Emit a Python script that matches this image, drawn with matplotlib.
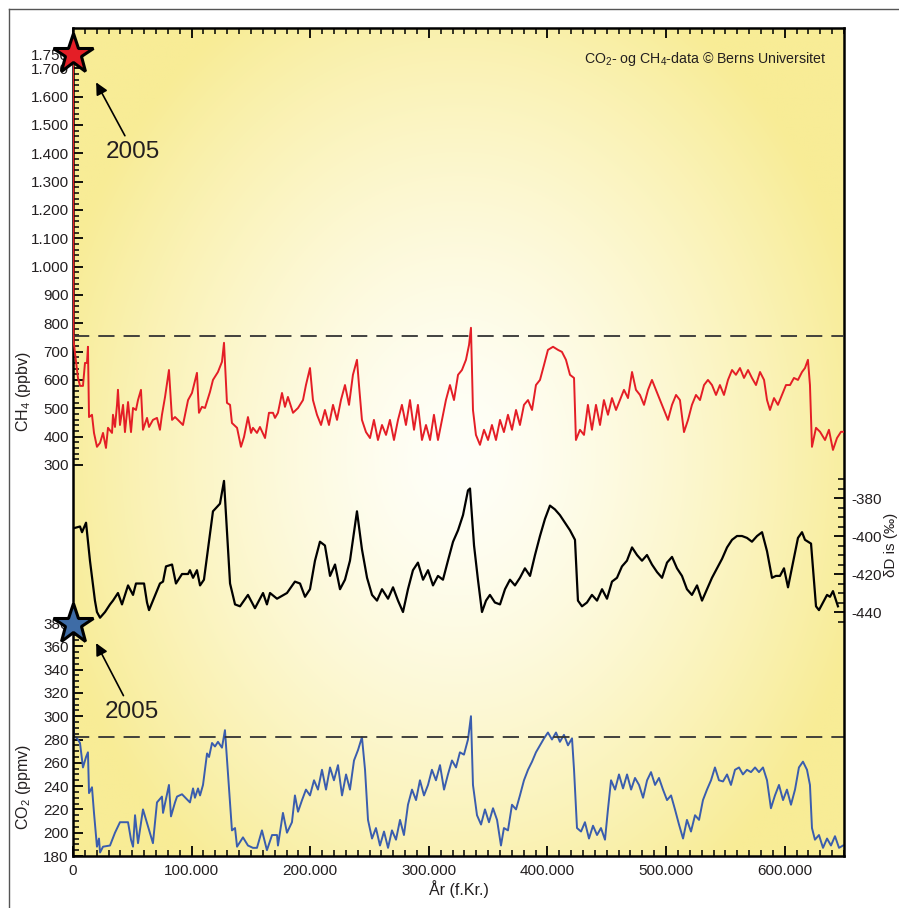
import matplotlib
matplotlib.use("Agg")
import matplotlib.pyplot as plt
import numpy as np
from matplotlib.ticker import FixedLocator, MultipleLocator, FuncFormatter
from matplotlib.lines import Line2D

plt.rcParams['font.family'] = ['Liberation Sans', 'DejaVu Sans']
plt.rcParams['axes.unicode_minus'] = False
plt.rcParams['mathtext.fontset'] = 'custom'
plt.rcParams['mathtext.rm'] = 'Liberation Sans'
plt.rcParams['mathtext.it'] = 'Liberation Sans'

# --- data (age in kyr before present) ---
ch4_age = [0.0, 0.4, 4.2, 5.9, 8.4, 10.1, 11.8, 12.6, 13.5, 16.0, 17.7, 20.2, 22.8, 25.3, 27.8, 29.5,
           32.9, 33.7, 35.4, 37.1, 37.9, 39.6, 42.2, 43.8, 46.4, 48.9, 50.6, 53.1, 54.8, 57.3, 59.0,
           62.4, 64.1, 67.4, 70.8, 73.3, 75.0, 77.6, 80.9, 83.5, 86.0, 88.5, 92.7, 97.0, 100.3, 104.5,
           106.2, 108.7, 111.3, 115.5, 118.0, 122.2, 125.6, 127.3, 129.8, 132.4, 134.0, 138.3, 141.6,
           144.2, 147.5, 150.1, 151.7, 155.1, 157.6, 161.9, 165.2, 168.6, 170.3, 172.8, 176.2, 178.7,
           181.2, 185.5, 189.7, 193.9, 196.4, 199.8, 202.3, 205.7, 209.1, 212.4, 215.8, 219.2, 222.6,
           225.9, 229.3, 232.7, 236.0, 239.4, 241.1, 243.6, 247.0, 250.4, 253.7, 257.1, 260.5, 263.9,
           267.2, 270.6, 274.0, 277.3, 280.7, 284.1, 287.5, 290.8, 294.2, 297.6, 301.0, 304.3, 307.7,
           311.1, 314.4, 317.8, 321.2, 324.6, 327.9, 331.3, 333.9, 335.5, 337.2, 339.7, 343.1, 346.5,
           349.9, 353.2, 356.6, 360.0, 363.3, 366.7, 370.1, 373.5, 376.8, 380.2, 383.6, 387.0, 390.3,
           393.7, 397.1, 400.4, 404.7, 408.9, 412.2, 415.6, 419.0, 422.4, 424.0, 427.4, 430.8, 434.1,
           437.5, 440.9, 444.3, 447.6, 451.0, 454.4, 457.8, 461.1, 464.5, 467.9, 471.3, 474.6, 478.0,
           481.4, 484.8, 488.1, 491.5, 494.9, 498.2, 501.6, 505.0, 508.4, 511.7, 515.1, 518.5, 521.8,
           525.2, 528.6, 532.0, 535.3, 538.7, 542.1, 545.4, 548.8, 552.2, 555.6, 558.9, 562.3, 565.7,
           569.1, 572.4, 575.8, 579.2, 582.6, 585.1, 587.6, 591.0, 594.3, 597.7, 601.1, 604.5, 607.8,
           611.2, 614.6, 617.1, 619.6, 621.3, 623.0, 626.4, 629.8, 634.0, 637.3, 640.7, 644.1, 647.5,
           650.0]
ch4_ppb = [1750, 740, 607, 579, 579, 660, 660, 717, 469, 477, 413, 364, 378, 413, 360, 431,
           413, 477, 434, 512, 565, 441, 512, 416, 522, 416, 501, 494, 529, 565, 424,
           466, 434, 459, 466, 424, 477, 540, 635, 459, 469, 459, 441, 529, 554, 625,
           484, 505, 501, 558, 600, 628, 664, 731, 519, 512, 448, 431, 364,
           399, 469, 413, 431, 413, 434, 395, 484, 484, 466, 484, 554, 505,
           540, 484, 501, 529, 582, 642, 529, 477, 441, 494, 441, 512, 459,
           529, 582, 512, 618, 671, 582, 459, 416, 395, 459, 388, 441, 406,
           459, 388, 459, 512, 441, 529, 424, 512, 388, 441, 388, 477, 388,
           459, 529, 582, 529, 618, 635, 671, 724, 784, 494, 406, 371, 424,
           388, 441, 388, 459, 416, 477, 424, 494, 441, 512, 529, 494, 582,
           600, 653, 706, 717, 706, 699, 671, 618, 607, 388, 424, 406, 512,
           424, 512, 441, 529, 477, 536, 494, 529, 565, 536, 628, 565, 547,
           512, 565, 600, 565, 529, 494, 459, 512, 547, 529, 416, 459, 512,
           547, 529, 582, 600, 582, 547, 582, 547, 600, 635, 618, 642, 607,
           635, 607, 582, 628, 600, 529, 494, 536, 512, 547, 582, 582, 607,
           600, 628, 642, 671, 582, 364, 431, 417, 388, 424, 353, 395, 417,
           417]

dd_age = [0.0, 5.9, 7.6, 11.0, 14.3, 18.5, 20.2, 22.8, 27.0, 31.2, 33.7, 37.9, 41.3, 46.4, 50.6,
          53.1, 59.9, 62.4, 64.1, 73.3, 75.9, 78.4, 83.5, 86.8, 91.9, 97.0, 98.6, 101.2, 104.5,
          107.1, 110.4, 118.0, 123.9, 127.3, 132.4, 136.6, 140.8, 147.5, 153.4, 160.2, 163.5,
          166.1, 172.0, 180.4, 187.1, 191.4, 195.6, 199.8, 204.0, 208.2, 212.4, 216.7, 220.9,
          225.1, 229.3, 233.5, 239.4, 243.6, 247.9, 252.1, 256.3, 260.5, 265.6, 269.8, 274.0,
          278.2, 282.4, 286.6, 290.8, 295.1, 299.3, 303.5, 307.7, 311.9, 316.1, 320.4, 324.6,
          328.8, 333.0, 334.7, 338.1, 341.4, 344.8, 348.2, 351.5, 355.7, 360.0, 364.2, 368.4,
          372.6, 376.8, 381.0, 385.3, 389.5, 393.7, 397.9, 402.1, 406.3, 410.5, 414.8, 419.0,
          423.2, 425.7, 429.1, 433.3, 437.5, 441.8, 446.0, 450.2, 454.4, 458.6, 462.8, 467.0,
          471.3, 475.5, 479.7, 483.9, 488.1, 492.4, 496.6, 500.8, 505.0, 509.2, 513.4, 517.6,
          521.8, 526.1, 530.3, 534.5, 538.7, 542.9, 547.2, 551.4, 555.6, 559.8, 564.0, 568.2,
          572.4, 576.7, 580.9, 585.1, 589.3, 592.6, 596.0, 599.4, 602.8, 611.2, 614.6, 617.1,
          622.2, 626.4, 628.9, 635.7, 638.2, 640.7, 644.9]
dd_permil = [-396, -395, -398, -393, -413, -434, -440, -443, -440, -436, -434, -430, -436, -426, -431,
             -425, -425, -435, -439, -425, -424, -416, -415, -425, -420, -420, -418, -422, -418,
             -426, -423, -387, -383, -371, -425, -436, -437, -431, -438, -430, -436,
             -430, -433, -430, -424, -425, -432, -428, -413, -403, -405, -421, -415,
             -428, -423, -413, -387, -407, -422, -431, -434, -428, -433, -427, -434,
             -440, -428, -418, -414, -423, -418, -426, -421, -423, -413, -403, -397,
             -389, -376, -375, -405, -423, -440, -434, -431, -435, -436, -428, -423,
             -426, -422, -417, -421, -410, -400, -391, -384, -386, -389, -393, -397,
             -402, -434, -437, -435, -431, -434, -428, -433, -424, -422, -416, -413,
             -406, -410, -413, -410, -415, -419, -422, -414, -411, -417, -421, -428,
             -431, -426, -434, -428, -422, -417, -412, -406, -402, -400, -400, -401,
             -403, -400, -398, -408, -422, -421, -421, -417, -427, -401, -398, -402,
             -404, -437, -439, -431, -432, -429, -437]

co2_age = [0.0, 0.8, 3.4, 5.9, 8.4, 11.0, 12.6, 13.5, 16.0, 17.7, 20.2, 21.9, 22.8, 25.3, 31.2,
           35.4, 39.6, 46.4, 48.9, 50.6, 52.3, 54.8, 59.0, 67.4, 70.8, 75.0, 75.9, 80.9, 82.6,
           86.0, 87.7, 91.9, 98.6, 101.2, 102.8, 105.4, 107.1, 109.6, 113.0, 114.7, 117.2, 119.7,
           122.2, 125.6, 128.1, 134.0, 136.6, 138.3, 143.3, 147.5, 151.7, 155.1, 159.3, 163.5,
           167.8, 172.0, 172.8, 177.0, 180.4, 184.6, 187.1, 189.7, 193.1, 196.4, 199.8, 203.2,
           206.5, 209.9, 213.3, 216.7, 220.0, 223.4, 226.8, 230.2, 233.5, 236.9, 240.3, 243.6,
           246.2, 248.7, 252.1, 255.4, 258.8, 262.2, 265.6, 268.9, 272.3, 275.7, 279.0, 282.4,
           285.8, 289.2, 292.5, 295.9, 299.3, 302.6, 306.0, 309.4, 312.8, 316.1, 319.5, 322.9,
           326.2, 329.6, 333.0, 335.5, 337.2, 340.6, 344.0, 347.3, 350.7, 354.1, 357.5, 360.8,
           363.3, 366.7, 370.1, 373.5, 376.8, 380.2, 383.6, 387.0, 390.3, 393.7, 397.1, 400.4,
           403.8, 407.2, 410.5, 413.9, 417.3, 420.7, 422.4, 424.9, 428.3, 431.6, 435.0, 438.4,
           441.8, 445.1, 448.5, 451.0, 453.6, 457.0, 460.3, 463.7, 467.1, 470.5, 473.8, 477.2,
           480.6, 484.0, 487.3, 490.7, 494.0, 497.4, 500.8, 504.2, 507.5, 510.9, 514.3, 517.6,
           521.0, 524.4, 527.8, 531.1, 534.5, 537.9, 541.2, 544.6, 548.0, 551.4, 554.7, 558.1,
           561.5, 564.8, 568.2, 571.6, 575.0, 578.3, 581.7, 585.1, 588.4, 591.8, 595.2, 598.6,
           601.9, 605.3, 608.7, 612.0, 615.4, 618.8, 621.3, 623.0, 625.5, 628.9, 632.3, 635.7,
           639.0, 642.4, 645.8, 649.2]
co2_ppm = [379, 283, 281, 277, 256, 265, 269, 234, 239, 217, 188, 195, 183, 188, 189,
           200, 209, 209, 194, 188, 215, 191, 220, 191, 226, 231, 217, 241, 214,
           226, 231, 233, 226, 238, 230, 238, 232, 241, 268, 265, 277, 274,
           278, 273, 288, 202, 204, 188, 196, 189, 187, 187, 202, 185,
           198, 198, 189, 217, 200, 209, 232, 218, 228, 237, 232, 245,
           237, 254, 237, 256, 245, 258, 232, 250, 237, 262, 271, 282,
           254, 211, 195, 204, 189, 201, 187, 202, 194, 211, 198, 224,
           237, 228, 245, 232, 241, 254, 245, 258, 237, 250, 262, 256,
           269, 267, 280, 300, 241, 215, 207, 220, 209, 221, 211, 189,
           204, 202, 224, 220, 232, 245, 254, 261, 269, 275, 281, 286,
           280, 286, 278, 284, 275, 281, 254, 204, 201, 209, 195, 206,
           198, 204, 194, 220, 245, 237, 250, 238, 250, 237, 247, 241,
           230, 245, 252, 241, 247, 237, 228, 232, 220, 207, 195, 211,
           201, 215, 211, 228, 237, 245, 256, 245, 244, 250, 241, 254,
           256, 250, 254, 252, 256, 252, 256, 245, 221, 232, 241, 228,
           237, 224, 237, 256, 261, 254, 241, 204, 194, 198, 187, 195,
           189, 197, 187, 189]

ch4_pre = 755
co2_pre = 282
xticks = [0, 100000, 200000, 300000, 400000, 500000, 600000]
ch4_ticks = [300, 400, 500, 600, 700, 800, 900, 1000, 1100, 1200, 1300, 1400, 1500, 1600, 1700, 1750]
co2_ticks = [180, 200, 220, 240, 260, 280, 300, 320, 340, 360, 380]
dd_ticks = [-380, -400, -420, -440]

red = '#E41E26'
blue = '#3A5DAE'
txt = '#231F20'
fs = 11

fig = plt.figure(figsize=(8.99, 9.08), dpi=100)
ax = fig.add_axes([73/899, 1-856/908, 771/899, 828.3/908])
ax2 = ax.twinx()
ax3 = ax.twinx()
bg = fig.add_axes(ax.get_position(), zorder=-1)
bg.axis('off')

# radial yellow background
gx = np.linspace(-771/2, 771/2, 400)
gy = np.linspace(-828/2, 828/2, 400)
GX, GY = np.meshgrid(gx, gy)
r = np.sqrt((GX/420.0)**2 + ((GY + 15)/520.0)**2)
t = np.clip(r, 0, 1)**1.4
white = np.array([1.0, 1.0, 0.975])
yellow = np.array([248, 236, 150]) / 255.0
img = white[None, None, :]*(1-t[..., None]) + yellow[None, None, :]*t[..., None]
bg.imshow(img, extent=[0, 1, 0, 1], aspect='auto', origin='lower')
bg.set_xlim(0, 1)
bg.set_ylim(0, 1)

for a in (ax, ax2, ax3):
    a.patch.set_visible(False)
ax.set_zorder(3)
ax2.set_zorder(1)
ax3.set_zorder(2)
for a in (ax2, ax3):
    for s in a.spines.values():
        s.set_visible(False)
for s in ax.spines.values():
    s.set_linewidth(1.8)

ages = lambda k: np.array(k) * 1000
ax.plot(ages(ch4_age), ch4_ppb, color=red, lw=1.4, zorder=4)
ax3.plot(ages(dd_age), dd_permil, color='black', lw=1.6)
ax2.plot(ages(co2_age), co2_ppm, color=blue, lw=1.4)

ax.axhline(ch4_pre, color='#333333', lw=1.3, dashes=(9, 5), zorder=3)
ax2.axhline(co2_pre, color='#333333', lw=1.3, dashes=(9, 5))

ax.set_xlim(0, 650000)
ax.set_ylim(-1080, 1843)
ax2.set_ylim(180, 891)
ax3.set_ylim(-568.4, -132.5)

# x axis
ax.xaxis.set_major_locator(FixedLocator(xticks))
ax.xaxis.set_minor_locator(MultipleLocator(10000))
ax.xaxis.set_major_formatter(FuncFormatter(lambda v, p: f"{int(v):,}".replace(',', '.')))
ax.tick_params(axis='x', which='both', direction='in', top=True, bottom=True, colors='black',
               labelcolor=txt, labelsize=fs, pad=6)
ax.set_xlabel('År (f.Kr.)', fontsize=11.5, color=txt, labelpad=1)

# CH4 axis
ax.yaxis.set_major_locator(FixedLocator(ch4_ticks))
ax.yaxis.set_minor_locator(FixedLocator(np.arange(300, 1761, 20)))
ax.yaxis.set_major_formatter(FuncFormatter(lambda v, p: f"{int(v):,}".replace(',', '.')))
ax.tick_params(axis='y', which='both', direction='in', left=True, right=False,
               labelcolor=txt, labelsize=fs, pad=3)
ax.set_ylabel('CH$_4$ (ppbv)', fontsize=11.5, color=txt)
ax.yaxis.set_label_coords(-0.052, 0.561)

# CO2 axis on left
ax2.yaxis.tick_left()
ax2.yaxis.set_label_position('left')
ax2.yaxis.set_major_locator(FixedLocator(co2_ticks))
ax2.yaxis.set_minor_locator(FixedLocator(np.arange(180, 386, 5)))
ax2.tick_params(axis='y', which='both', direction='in', left=True, right=False,
                labelcolor=txt, labelsize=fs, pad=3)
ax2.set_ylabel('CO$_2$ (ppmv)', fontsize=11.5, color=txt)
ax2.yaxis.set_label_coords(-0.052, 0.083)
ax2.tick_params(axis='x', which='both', bottom=False, top=False, labelbottom=False)

# dD axis on right
ax3.yaxis.set_major_locator(FixedLocator(dd_ticks))
ax3.yaxis.set_minor_locator(FixedLocator(np.arange(-445, -369, 5)))
ax3.yaxis.set_major_formatter(FuncFormatter(lambda v, p: f"{int(v)}"))
ax3.tick_params(axis='y', which='both', direction='in', right=True, left=False,
                labelcolor=txt, labelsize=fs, pad=5)
ax3.tick_params(axis='x', which='both', bottom=False, top=False, labelbottom=False)

for a in (ax, ax2, ax3):
    a.tick_params(which='major', length=7, width=1.3)
    a.tick_params(which='minor', length=4, width=1.1)

fig.text(898/899, 1-545/908, 'δD is (‰)', rotation=90, ha='right', va='center',
         fontsize=11, color=txt)

# 2005 stars
ax.plot([0], [ch4_ppb[0]], marker='*', ms=30, mfc=red, mec='black', mew=2.2,
        clip_on=False, zorder=10, ls='none')
ax.plot([0], [co2_ppm[0]], marker='*', ms=30, mfc='#3E6CA6', mec='black', mew=2.2,
        clip_on=False, zorder=10, ls='none', transform=ax2.transData)

arrow = dict(arrowstyle='-|>', color='black', lw=1.2, mutation_scale=18,
             shrinkA=2, shrinkB=0, relpos=(0.4, 1.0))
ax.annotate('2005', xy=(0.030, 0.934), xycoords='axes fraction',
            xytext=(0.078, 0.85), textcoords='axes fraction', ha='center', va='center',
            fontsize=17.5, color=txt, arrowprops=arrow)
ax.annotate('2005', xy=(0.030, 0.257), xycoords='axes fraction',
            xytext=(0.076, 0.174), textcoords='axes fraction', ha='center', va='center',
            fontsize=17.5, color=txt, arrowprops=arrow)

ax.text(0.977, 0.962, 'CO$_2$- og CH$_4$-data © Berns Universitet', transform=ax.transAxes,
        ha='right', va='center', fontsize=10.2, color=txt)

# thin outer frame
fig.add_artist(Line2D([9/899, 9/899], [0, 1-9/908], color='#555555', lw=1.0))
fig.add_artist(Line2D([9/899, 1], [1-9/908, 1-9/908], color='#555555', lw=1.0))

fig.savefig('out.png', dpi=100)
